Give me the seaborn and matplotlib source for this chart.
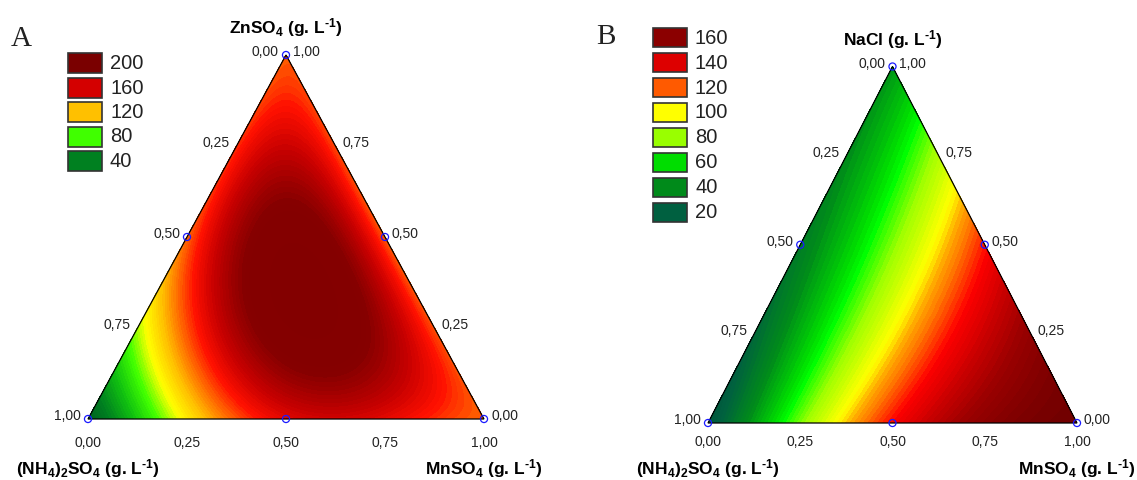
import numpy as np
import pandas as pd
import matplotlib
matplotlib.use("Agg")
import matplotlib.pyplot as plt
import matplotlib.tri as mtri
import seaborn as sns
from matplotlib.colors import LinearSegmentedColormap, Normalize
from matplotlib.patches import Rectangle, Polygon

# ---------------- data ----------------
# response read at mixture points: MnSO4 fraction, top-component fraction, value
# ((NH4)2SO4 fraction = 1 - MnSO4 - top component)
A_mn = [0, 1, 0, .125, .25, .32, .375, .5, .625, .75, .875,
        0, 0, 0, 0, 0, 0, 0,
        .875, .75, .5, .25, .125,
        .35, .333, .592, .196, .176, .495, .2, .1,
        .7, .45, .2, .65, .4, .15,
        .8, .6, .2, .1, .1, .3, .05, .15]
A_top = [0, 0, 1, 0, 0, 0, 0, 0, 0, 0, 0,
         .125, .25, .375, .5, .625, .75, .875,
         .125, .25, .5, .75, .875,
         .37, .333, .28, .28, .648, .08, .2, .8,
         .25, .5, .75, .25, .5, .75,
         .1, .1, .6, .5, .3, .1, .15, .15]
A_val = [20, 140, 140, 72, 102, 125, 145, 165, 170, 165, 150,
         55, 97, 115, 138, 148, 150, 145,
         142, 145, 147, 147, 145,
         225, 220, 198, 198, 198, 190, 150, 165,
         160, 160, 158, 175, 178, 172,
         163, 190, 195, 170, 140, 148, 88, 112]

B_mn = [0, .12, .2, .27, .35, .45, .51, .575, .665, .756, .94, 1,
        .125, .25, .347, .431, .5, .636, .776,
        0, 0, 0, 0, .333]
B_top = [0, 0, 0, 0, 0, 0, 0, 0, 0, 0, 0, 0,
         .875, .75, .653, .569, .5, .364, .224,
         .25, .5, .75, 1, .333]
B_val = [12, 40, 65, 85, 100, 120, 130, 143, 158, 165, 178, 180,
         60, 85, 100, 118, 128, 150, 163,
         24, 33, 40, 44, 92]

A_legend_values = [200, 160, 120, 80, 40]
A_legend_colors = ["#7a0000", "#d40000", "#ffc000", "#40ff00", "#008020"]
B_legend_values = [160, 140, 120, 100, 80, 60, 40, 20]
B_legend_colors = ["#8b0000", "#dd0000", "#ff5a00", "#ffff00", "#99ff00",
                   "#00dd00", "#008a1a", "#006040"]

tick_values = [0.00, 0.25, 0.50, 0.75, 1.00]
A_top_title = r"ZnSO$_4$ (g. L$^{\text{-1}}$)"
B_top_title = r"NaCl (g. L$^{\text{-1}}$)"
left_title = r"(NH$_4$)$_2$SO$_4$ (g. L$^{\text{-1}}$)"
right_title = r"MnSO$_4$ (g. L$^{\text{-1}}$)"

# ---------------- style ----------------
sns.set_style("white")
plt.rcParams["font.family"] = ["Liberation Sans", "DejaVu Sans"]
plt.rcParams["mathtext.fontset"] = "custom"
plt.rcParams["mathtext.rm"] = "Liberation Sans:bold"
plt.rcParams["mathtext.it"] = "Liberation Sans:bold"
plt.rcParams["mathtext.bf"] = "Liberation Sans:bold"
plt.rcParams["mathtext.default"] = "rm"

W, H = 1137, 480
fig = plt.figure(figsize=(W / 100, H / 100), dpi=100)
ax = fig.add_axes([0, 0, 1, 1])


def poly_terms(b, c, deg):
    return np.column_stack([b ** i * c ** j for i in range(deg + 1)
                            for j in range(deg + 1 - i)])


def fit_surface(mn, top, val, deg):
    b = np.asarray(mn, float)
    c = np.asarray(top, float)
    coef, *_ = np.linalg.lstsq(poly_terms(b, c, deg), np.asarray(val, float),
                               rcond=None)
    return coef


def fmt(v):
    return f"{v:.2f}".replace(".", ",")


n = 160
ii, jj = np.meshgrid(np.arange(n + 1), np.arange(n + 1))
mask = ii + jj <= n
bb = (ii[mask] / n).astype(float)
cc = (jj[mask] / n).astype(float)
aa = 1 - bb - cc

panels = [
    dict(L=(88, 419), R=(484, 419), T=(286, 55), obs=(A_mn, A_top, A_val), deg=4,
         anchors=[(0, "#004a18"), (20, "#005a20"), (40, "#008020"), (60, "#10c010"),
                  (80, "#40ff00"), (100, "#ffff00"), (120, "#ffc000"),
                  (140, "#ff6000"), (155, "#ff1000"), (175, "#c80000"),
                  (200, "#850000"), (240, "#800000")],
         vmin=0, vmax=240, top=A_top_title, letter="A", letter_xy=(21, 39),
         leg_vals=A_legend_values, leg_cols=A_legend_colors,
         leg_x=68, leg_y=53, leg_pitch=24.5, leg_h=20, bottom_off=24),
    dict(L=(708, 423), R=(1077, 423), T=(892.5, 66.5), obs=(B_mn, B_top, B_val), deg=3,
         anchors=[(0, "#004f35"), (20, "#006040"), (40, "#008a1a"), (60, "#00dd00"),
                  (66, "#00ff00"), (80, "#99ff00"), (100, "#ffff00"),
                  (110, "#ffa000"), (120, "#ff5a00"), (130, "#ff0000"),
                  (145, "#cc0000"), (160, "#990000"), (180, "#700000"),
                  (200, "#680000")],
         vmin=0, vmax=200, top=B_top_title, letter="B", letter_xy=(606, 37),
         leg_vals=B_legend_values, leg_cols=B_legend_colors,
         leg_x=653, leg_y=28.3, leg_pitch=24.9, leg_h=19, bottom_off=19),
]

for p in panels:
    L, R, T = (np.array(p[k], dtype=float) for k in ("L", "R", "T"))
    X = aa * L[0] + bb * R[0] + cc * T[0]
    Y = aa * L[1] + bb * R[1] + cc * T[1]
    coef = fit_surface(*p["obs"], p["deg"])
    Z = poly_terms(bb, cc, p["deg"]) @ coef
    tri = mtri.Triangulation(X, Y)
    vmin, vmax = p["vmin"], p["vmax"]
    cmap = LinearSegmentedColormap.from_list(
        "c", [((v - vmin) / (vmax - vmin), col) for v, col in p["anchors"]])
    norm = Normalize(vmin, vmax)
    levels = np.arange(vmin, vmax + 0.1, 2.5)
    ax.tricontourf(tri, Z, levels=levels, cmap=cmap, norm=norm, extend="both")
    ax.add_patch(Polygon([L, R, T], closed=True, fill=False, edgecolor="black",
                         linewidth=0.9, zorder=4))

    # design points (vertices and edge midpoints)
    pts = [L, R, T, (L + R) / 2, (L + T) / 2, (R + T) / 2]
    df = pd.DataFrame({"px": [q[0] for q in pts], "py": [q[1] for q in pts]})
    sns.scatterplot(data=df, x="px", y="py", ax=ax, marker="o", s=26,
                    facecolor="none", edgecolor="#1a1aff", linewidth=0.9,
                    legend=False, zorder=6)

    # tick labels
    for t in tick_values:
        bx = L[0] + t * (R[0] - L[0])
        ax.text(bx, L[1] + p["bottom_off"], fmt(t), ha="center", va="center",
                fontsize=10, color="#222222")
        e = L + t * (T - L)
        ax.text(e[0] - 7, e[1] - 3, fmt(1 - t), ha="right", va="center",
                fontsize=10, color="#222222")
        e = R + t * (T - R)
        ax.text(e[0] + 7, e[1] - 3, fmt(t), ha="left", va="center",
                fontsize=10, color="#222222")

    ax.text(T[0], T[1] - 27, p["top"], ha="center", va="center", fontsize=12.5,
            fontweight="bold", color="black")
    ax.text(L[0], 469, left_title, ha="center", va="center", fontsize=12.5,
            fontweight="bold", color="black")
    ax.text(R[0], 469, right_title, ha="center", va="center", fontsize=12.5,
            fontweight="bold", color="black")
    ax.text(p["letter_xy"][0], p["letter_xy"][1], p["letter"], ha="center",
            va="center", fontsize=21, family="Liberation Serif", color="#222222")

    # legend
    for k, (v, col) in enumerate(zip(p["leg_vals"], p["leg_cols"])):
        y0 = p["leg_y"] + k * p["leg_pitch"]
        ax.add_patch(Rectangle((p["leg_x"], y0), 34, p["leg_h"], facecolor=col,
                               edgecolor="#333333", linewidth=1.2, zorder=5))
        ax.text(p["leg_x"] + 42, y0 + p["leg_h"] / 2 + 0.5, str(v), ha="left",
                va="center", fontsize=14.5, color="#222222")

ax.set_xlim(0, W)
ax.set_ylim(H, 0)
ax.axis("off")
fig.savefig("out.png", dpi=100)
